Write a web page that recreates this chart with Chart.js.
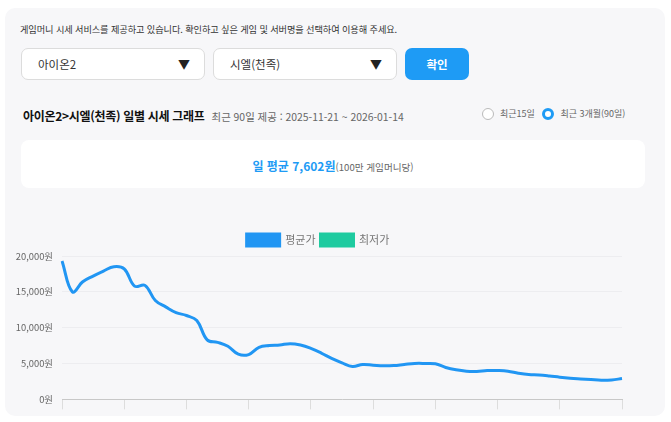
<!DOCTYPE html>
<html lang="ko">
<head>
<meta charset="utf-8">
<script src="https://cdn.jsdelivr.net/npm/chart.js@4.4.1/dist/chart.umd.min.js"></script>
<style>
  * { box-sizing: border-box; }
  html, body { margin: 0; padding: 0; background: #fff; width: 671px; height: 422px; overflow: hidden; }
  body { font-family: "Noto Sans CJK KR", "Noto Sans", sans-serif; color: #333; }
  .panel { position: absolute; left: 5px; top: 8px; width: 660px; height: 408px; background: #f7f7f9; border-radius: 10px; }
  .intro { position: absolute; left: 20px; top: 22px; font-size: 9.2px; color: #333; letter-spacing: -0.1px; }
  .select { position: absolute; top: 48px; height: 32px; background: #fff; border: 1px solid #dcdcdc; border-radius: 7px; font-size: 11.5px; line-height: 30px; padding-left: 16px; color: #333; }
  .select .arrow { position: absolute; right: 14px; top: 0; font-size: 12px; color: #222; }
  .btn { position: absolute; left: 405px; top: 48px; width: 64px; height: 32px; background: #1e9bf5; border-radius: 7px; color: #fff; font-weight: bold; font-size: 11.5px; text-align: center; line-height: 32px; }
  .title { position: absolute; left: 23px; top: 107px; font-size: 12px; font-weight: bold; color: #111; letter-spacing: -0.3px; }
  .title span { font-weight: normal; font-size: 10.4px; color: #666; margin-left: 7px; letter-spacing: 0; }
  .radios { position: absolute; left: 482px; top: 107px; font-size: 9px; color: #666; }
  .radio { display: inline-block; width: 12px; height: 12px; border-radius: 50%; border: 1px solid #bbb; vertical-align: -3px; margin-right: 6px; background: #fff; }
  .radio.on { border: 3.5px solid #1e9bf5; }
  .stat { position: absolute; left: 21px; top: 140px; width: 624px; height: 48px; background: #fff; border-radius: 8px; text-align: center; line-height: 48px; }
  .stat b { color: #1e9bf5; font-size: 12px; }
  .stat small { color: #666; font-size: 9.6px; }
  #wrap { position: absolute; left: 0; top: 224px; width: 640px; height: 190px; }
</style>
</head>
<body>
<div class="panel"></div>
<div class="intro">게임머니 시세 서비스를 제공하고 있습니다. 확인하고 싶은 게임 및 서버명을 선택하여 이용해 주세요.</div>
<div class="select" style="left:21px;width:184px;">아이온2<span class="arrow">▼</span></div>
<div class="select" style="left:213px;width:184px;">시엘(천족)<span class="arrow">▼</span></div>
<div class="btn">확인</div>
<div class="title">아이온2&gt;시엘(천족) 일별 시세 그래프<span>최근 90일 제공 : 2025-11-21 ~ 2026-01-14</span></div>
<div class="radios"><span class="radio"></span>최근15일 &nbsp;&nbsp;<span class="radio on"></span>최근 3개월(90일)</div>
<div class="stat"><b>일 평균 7,602원</b><small>(100만 게임머니당)</small></div>
<div id="wrap"><canvas id="chart"></canvas></div>

<script>
// ---------- data ----------
const startDate = '2025-11-21';
const avgPrice = [
  19300, 15000, 16400, 17200, 17900, 18500, 18200, 15800, 15900, 13800,
  12900, 12100, 11700, 11000, 8300, 7950, 7400, 6300, 6250, 7250,
  7500, 7580, 7770, 7580, 7110, 6460, 5710, 5100, 4590, 4870,
  4770, 4680, 4720, 4870, 5010, 5010, 4960, 4450, 4120, 3930,
  3900, 4020, 4020, 3930, 3650, 3460, 3410, 3270, 3090, 2950,
  2850, 2760, 2670, 2710, 2900
];
const lowPrice = [];
const yTicks = [0, 5000, 10000, 15000, 20000];

// dates 2025-11-21 .. 2026-01-14
const days = avgPrice.map((_, i) => {
  const d = new Date(startDate + 'T00:00:00');
  d.setDate(d.getDate() + i);
  return `${d.getMonth() + 1}/${d.getDate()}`;
});

Chart.defaults.font.family = '"Noto Sans CJK KR", "Noto Sans", sans-serif';
Chart.defaults.color = '#666';

new Chart(document.getElementById('chart'), {
  type: 'line',
  data: {
    labels: days,
    datasets: [
      {
        label: '평균가',
        data: avgPrice,
        borderColor: '#2196f3',
        backgroundColor: '#2196f3',
        borderWidth: 3,
        tension: 0.4,
        pointRadius: 0,
        fill: false
      },
      {
        label: '최저가',
        data: lowPrice,
        borderColor: '#1ecba0',
        backgroundColor: '#1ecba0',
        borderWidth: 3,
        tension: 0.4,
        pointRadius: 0
      }
    ]
  },
  options: {
    responsive: true,
    maintainAspectRatio: false,
    animation: false,
    layout: { padding: { left: 14, right: 18, top: 5, bottom: 0 } },
    plugins: {
      legend: {
        position: 'top',
        labels: { boxWidth: 33, boxHeight: 12, font: { size: 11 }, color: '#777', padding: 5 }
      },
      tooltip: { enabled: false }
    },
    scales: {
      y: {
        min: 0,
        max: 20000,
        afterBuildTicks: s => { s.ticks = yTicks.map(v => ({ value: v })); },
        afterFit: s => { s.width = 48; },
        ticks: {
          padding: 9,
          font: { size: 9.4 },
          color: '#666',
          callback: v => v.toLocaleString('en-US') + '원'
        },
        grid: { color: '#ededf0', drawTicks: false },
        border: { display: false }
      },
      x: {
        ticks: {
          autoSkip: false,
          maxRotation: 0,
          padding: 0,
          font: { size: 1 },
          callback: (v, i) => (i % 6 === 0 ? '' : null)
        },
        grid: { drawOnChartArea: false, tickLength: 10, color: '#ddd' },
        border: { display: true, color: '#c8c8c8' }
      }
    }
  }
});
</script>
</body>
</html>
